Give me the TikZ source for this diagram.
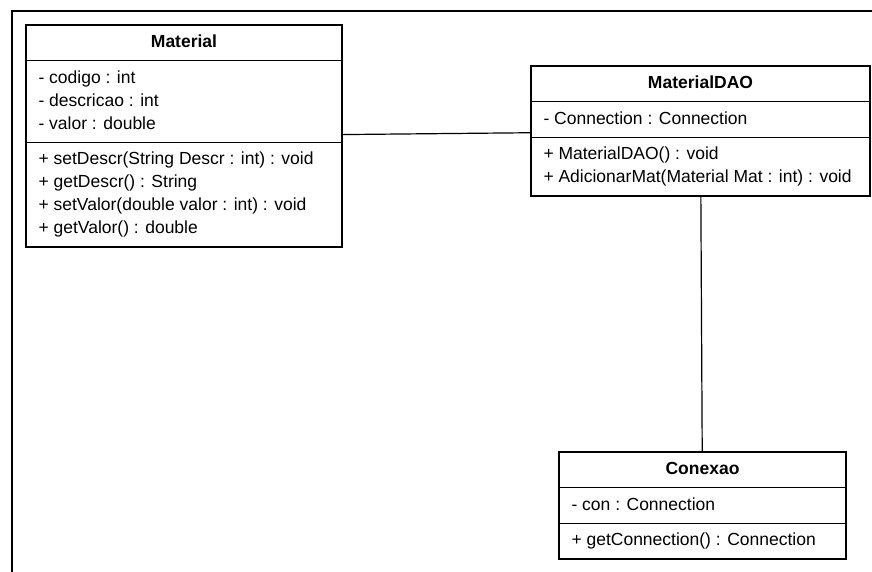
\documentclass[tikz,border=0pt]{standalone}
\usepackage{fontspec}
\setmainfont{Liberation Sans}
\usetikzlibrary{shapes.multipart}

\newcommand{\members}[1]{\begin{tabular}{@{}l@{}}#1\end{tabular}}
\newcommand{\classname}[2]{\members{\makebox[#1]{\bfseries #2}}}

\begin{document}
\begin{tikzpicture}[x=1pt,y=-1pt,
  umlclass/.style={rectangle split,rectangle split parts=3,draw,line width=1pt,fill=white,
    rectangle split part align={center,left,left},
    anchor=north west,inner xsep=12pt,inner ysep=5.7pt,font=\fontsize{17.5}{23}\selectfont},
  outline/.style={line width=2.4pt},
  assoc/.style={line width=1.2pt}]
\useasboundingbox (0,0) rectangle (872,572);
\draw[outline] (12,572) -- (12,11) -- (872,11);

\node[umlclass] (material) at (26,25) {\classname{291pt}{Material}
  \nodepart{second}\members{- codigo : int\\- descricao : int\\- valor : double}
  \nodepart{third}\members{+ setDescr(String Descr : int) : void\\+ getDescr() : String\\+ setValor(double valor : int) : void\\+ getValor() : double}};
\node[umlclass] (dao) at (531,66) {\classname{314pt}{MaterialDAO}
  \nodepart{second}\members{- Connection : Connection}
  \nodepart{third}\members{+ MaterialDAO() : void\\+ AdicionarMat(Material Mat : int) : void}};
\node[umlclass] (conexao) at (559,452) {\classname{262pt}{Conexao}
  \nodepart{second}\members{- con : Connection}
  \nodepart{third}\members{+ getConnection() : Connection}};

\foreach \c in {material,dao,conexao}
  \draw[outline] (\c.north west) rectangle (\c.south east);

\draw[assoc] (material) -- (dao);
\draw[assoc] (dao) -- (conexao);
\end{tikzpicture}
\end{document}
